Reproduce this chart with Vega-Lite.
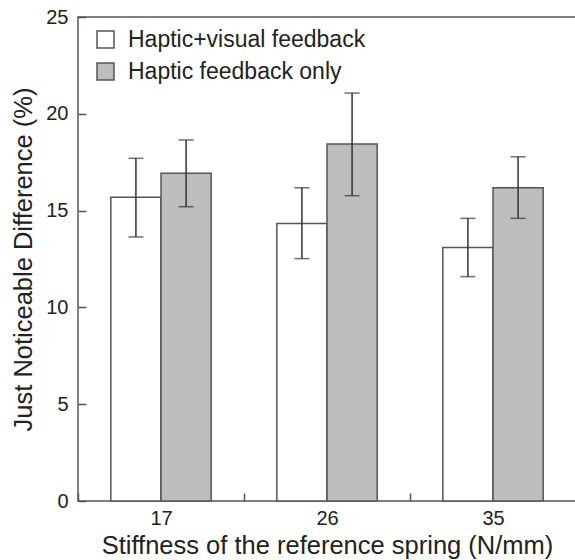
{
  "$schema": "https://vega.github.io/schema/vega-lite/v6.json",
  "autosize": "none",
  "padding": {"left": 78, "top": 17, "right": 0, "bottom": 59},
  "width": 498,
  "height": 484,
  "background": "white",
  "config": {
    "font": "Liberation Sans",
    "view": {"stroke": "#555", "strokeWidth": 1.5},
    "axis": {"domain": false, "labelColor": "#222", "titleColor": "#222", "labelFont": "Liberation Sans", "titleFont": "Liberation Sans", "titleFontWeight": "normal", "grid": false}
  },
  "data": {"values": [
    {"stiffness": "17", "condition": "Haptic+visual feedback", "mean": 15.69, "lo": 13.64, "hi": 17.70},
    {"stiffness": "17", "condition": "Haptic feedback only", "mean": 16.93, "lo": 15.20, "hi": 18.65},
    {"stiffness": "26", "condition": "Haptic+visual feedback", "mean": 14.34, "lo": 12.52, "hi": 16.18},
    {"stiffness": "26", "condition": "Haptic feedback only", "mean": 18.44, "lo": 15.77, "hi": 21.07},
    {"stiffness": "35", "condition": "Haptic+visual feedback", "mean": 13.10, "lo": 11.59, "hi": 14.60},
    {"stiffness": "35", "condition": "Haptic feedback only", "mean": 16.18, "lo": 14.60, "hi": 17.78}
  ]},
  "encoding": {
    "x": {"field": "stiffness", "type": "nominal", "sort": ["17", "26", "35"],
      "scale": {"paddingInner": 0, "paddingOuter": 0},
      "axis": {"title": "Stiffness of the reference spring (N/mm)", "ticks": true, "tickColor": "#555", "tickWidth": 1.5, "tickSize": 8, "offset": -8, "labelAngle": 0, "labelFontSize": 20, "titleFontSize": 25.5, "tickBand": "extent", "labelPadding": 7, "titlePadding": 5}},
    "xOffset": {"field": "condition", "type": "nominal", "sort": ["Haptic+visual feedback", "Haptic feedback only"],
      "scale": {"paddingInner": 0, "paddingOuter": 0.654}}
  },
  "layer": [
    {
      "mark": {"type": "bar", "stroke": "#555", "strokeWidth": 1.5},
      "encoding": {
        "y": {"field": "mean", "type": "quantitative",
          "scale": {"domain": [0, 25], "nice": false},
          "axis": {"title": "Just Noticeable Difference (%)", "ticks": true, "tickColor": "#555", "tickWidth": 1.5, "tickSize": 8, "offset": -8, "values": [0, 5, 10, 15, 20, 25], "labelFontSize": 20, "titleFontSize": 25.5, "labelPadding": 10, "titlePadding": 9}},
        "fill": {"field": "condition", "type": "nominal", "sort": ["Haptic+visual feedback", "Haptic feedback only"],
          "scale": {"domain": ["Haptic+visual feedback", "Haptic feedback only"], "range": ["#ffffff", "#bdbdbd"]},
          "legend": {"title": null, "orient": "none", "legendX": 16, "legendY": 11, "symbolType": "square", "symbolSize": 289, "symbolStrokeColor": "#555", "symbolStrokeWidth": 1.5, "labelFontSize": 23, "labelColor": "#222", "labelOffset": 11, "labelLimit": 0, "rowPadding": 8, "labelFont": "Liberation Sans"}}
      }
    },
    {
      "mark": {"type": "rule", "stroke": "#333", "strokeWidth": 1.5},
      "encoding": {"y": {"field": "lo", "type": "quantitative"}, "y2": {"field": "hi"}}
    },
    {
      "mark": {"type": "tick", "color": "#333", "size": 15, "thickness": 1.5},
      "encoding": {"y": {"field": "hi", "type": "quantitative"}}
    },
    {
      "mark": {"type": "tick", "color": "#333", "size": 15, "thickness": 1.5},
      "encoding": {"y": {"field": "lo", "type": "quantitative"}}
    }
  ]
}
